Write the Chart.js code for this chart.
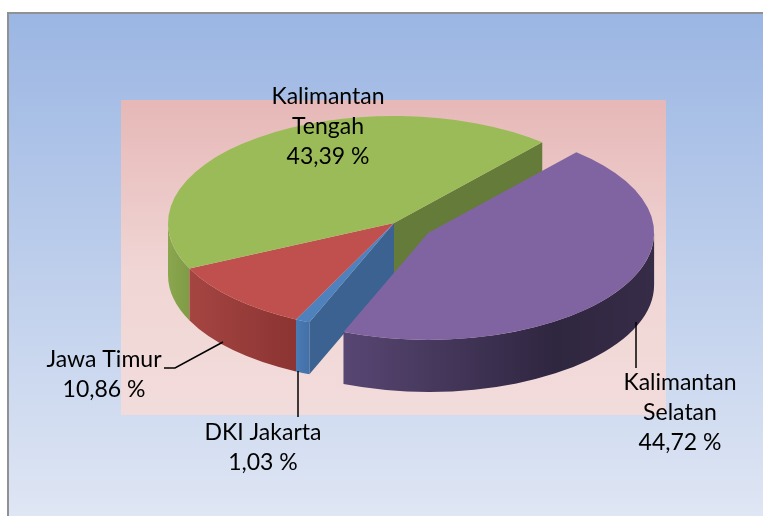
<!DOCTYPE html>
<html>
<head>
<meta charset="utf-8">
<script src="https://cdn.jsdelivr.net/npm/chart.js@4/dist/chart.umd.min.js"></script>
<style>
  html, body { margin: 0; padding: 0; background: #fff; }
  canvas { display: block; }
</style>
</head>
<body>
<canvas id="myChart" width="763" height="516"></canvas>
<script>
// data, in the order Excel draws the slices (clockwise from the first slice angle)
const provinces = ["Kalimantan Selatan", "DKI Jakarta", "Jawa Timur", "Kalimantan Tengah"];
const labelLines = [["Kalimantan", "Selatan"], ["DKI Jakarta"], ["Jawa Timur"], ["Kalimantan", "Tengah"]];
const shares = [44.72, 1.03, 10.86, 43.39];

// styling
const topColors = ["#8064A2", "#4F81BD", "#C0504D", "#9BBB59"];
const wallColors = [
  ["#584673", "#2f2640", "#372c47"],
  ["#4b7bb4", "#4270a8"],
  ["#a54542", "#8b3432"],
  ["#8aa74e", "#7f9b46"],
];
const faceColors = ["#5a467a", "#3b6291", "#9a3f3c", "#647b39"];
const explode = [40, 0, 0, 0];

// layout of the labels (center x, first line y) and leader lines
const labelPos = [[680, 383], [263, 433], [104, 360], [328, 97]];
const leaders = [
  [[636, 322], [636, 368]],
  [[298, 371], [298, 417]],
  [[223, 342], [175, 368], [164, 368]],
  null,
];

const TILT = 0.4735;
const DEPTH = 52;

function pct(v) {
  return v.toFixed(2).replace(".", ",") + " %";
}

function centerY(chart) {
  return (chart.chartArea.top + chart.chartArea.bottom) / 2;
}

function face(ctx, arc, cy, angle, color) {
  const x0 = arc.x, y0 = cy + (arc.y - cy) * TILT, r = arc.outerRadius;
  const rx = x0 + Math.cos(angle) * r;
  const ry = y0 + Math.sin(angle) * r * TILT;
  ctx.beginPath();
  ctx.moveTo(x0, y0);
  ctx.lineTo(rx, ry);
  ctx.lineTo(rx, ry + DEPTH);
  ctx.lineTo(x0, y0 + DEPTH);
  ctx.closePath();
  ctx.fillStyle = color;
  ctx.fill();
}

function wall(ctx, arc, cy, colors) {
  const a1 = Math.max(arc.startAngle, 0);
  const a2 = Math.min(arc.endAngle, Math.PI);
  if (a2 <= a1) return;
  const x0 = arc.x, y0 = cy + (arc.y - cy) * TILT, r = arc.outerRadius;
  ctx.beginPath();
  ctx.ellipse(x0, y0, r, r * TILT, 0, a1, a2);
  ctx.ellipse(x0, y0 + DEPTH, r, r * TILT, 0, a2, a1, true);
  ctx.closePath();
  const xl = x0 + Math.cos(a2) * r, xr = x0 + Math.cos(a1) * r;
  const g = ctx.createLinearGradient(xl, 0, xr + 0.01, 0);
  if (colors.length === 3) {
    g.addColorStop(0, colors[0]);
    g.addColorStop(0.68, colors[1]);
    g.addColorStop(1, colors[2]);
  } else {
    g.addColorStop(0, colors[0]);
    g.addColorStop(1, colors[1]);
  }
  ctx.fillStyle = g;
  ctx.fill();
}

const pie3d = {
  id: "pie3d",
  beforeDraw(chart) {
    const ctx = chart.ctx;
    ctx.save();
    ctx.fillStyle = "#ffffff";
    ctx.fillRect(0, 0, chart.width, chart.height);
    let g = ctx.createLinearGradient(0, 14, 0, 516);
    g.addColorStop(0, "#9bb6e3");
    g.addColorStop(1, "#dfe6f4");
    ctx.fillStyle = g;
    ctx.fillRect(9, 14, chart.width, chart.height);
    ctx.fillStyle = "#8f9195";
    ctx.fillRect(7, 12, chart.width, 2);
    ctx.fillRect(7, 12, 2, chart.height);
    g = ctx.createLinearGradient(0, 100, 0, 415);
    g.addColorStop(0, "#e6b8b7");
    g.addColorStop(0.55, "#f0d6d5");
    g.addColorStop(1, "#f2dcdb");
    ctx.fillStyle = g;
    ctx.fillRect(121, 100, 545, 315);
    ctx.restore();
  },
  afterUpdate(chart) {
    const arcs = chart.getDatasetMeta(0).data;
    arcs.forEach((arc, i) => {
      const mid = (arc.startAngle + arc.endAngle) / 2;
      arc.x += Math.cos(mid) * explode[i];
      arc.y += Math.sin(mid) * explode[i];
    });
  },
  beforeDatasetsDraw(chart) {
    const ctx = chart.ctx;
    const cy = centerY(chart);
    const arcs = chart.getDatasetMeta(0).data;
    const n = arcs.length;
    ctx.save();
    // cut faces left open by exploded slices
    arcs.forEach((arc, i) => {
      if (!explode[i]) return;
      const prev = arcs[(i - 1 + n) % n], next = arcs[(i + 1) % n];
      face(ctx, prev, cy, prev.endAngle, faceColors[(i - 1 + n) % n]);
      face(ctx, next, cy, next.startAngle, faceColors[(i + 1) % n]);
    });
    // outer walls, back to front
    [3, 2, 1, 0].forEach(i => wall(ctx, arcs[i], cy, wallColors[i]));
    ctx.restore();
    // top faces are drawn by Chart.js on a flattened context
    ctx.save();
    ctx.translate(0, cy);
    ctx.scale(1, TILT);
    ctx.translate(0, -cy);
  },
  afterDatasetsDraw(chart) {
    chart.ctx.restore();
  },
  afterDraw(chart) {
    const ctx = chart.ctx;
    ctx.save();
    ctx.strokeStyle = "#000";
    ctx.lineWidth = 1.5;
    leaders.forEach(pts => {
      if (!pts) return;
      ctx.beginPath();
      pts.forEach((p, j) => (j ? ctx.lineTo(p[0], p[1]) : ctx.moveTo(p[0], p[1])));
      ctx.stroke();
    });
    ctx.fillStyle = "#000";
    ctx.font = "23px Lato";
    ctx.textAlign = "center";
    ctx.textBaseline = "middle";
    shares.forEach((v, i) => {
      const lines = labelLines[i].concat([pct(v)]);
      lines.forEach((t, j) => ctx.fillText(t, labelPos[i][0], labelPos[i][1] + j * 30));
    });
    ctx.restore();
  },
};

const ctx = document.getElementById("myChart").getContext("2d");
const myChart = new Chart(ctx, {
  type: "pie",
  data: {
    labels: provinces,
    datasets: [
      {
        data: shares,
        backgroundColor: topColors,
        borderWidth: 0,
        radius: 226,
        clip: false,
      },
    ],
  },
  options: {
    responsive: false,
    animation: false,
    events: [],
    rotation: 41,
    layout: { padding: { left: 25, right: 0, top: 0, bottom: 70 } },
    plugins: {
      legend: { display: false },
      tooltip: { enabled: false },
    },
  },
  plugins: [pie3d],
});
</script>
</body>
</html>
